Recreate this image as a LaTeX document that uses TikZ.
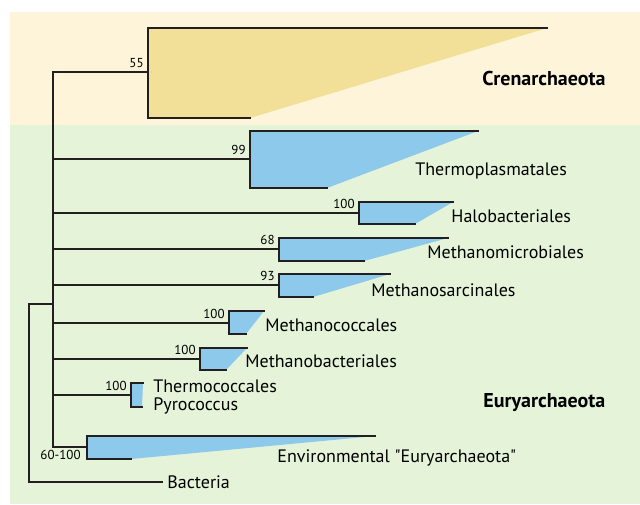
\documentclass[tikz,border=0pt]{standalone}
\usepackage{fontspec}
\setmainfont[Ligatures=TeXOff]{PT Sans}
\definecolor{crenbg}{HTML}{FDF4D9}
\definecolor{eurybg}{HTML}{E5F3D9}
\definecolor{crenfill}{HTML}{F2DF98}
\definecolor{euryfill}{HTML}{8DC9EB}
\definecolor{treeline}{HTML}{231F20}
\begin{document}
\begin{tikzpicture}[x=0.5pt, y=-0.5pt,
    branch/.style={line width=1pt, draw=treeline, line cap=rect},
    boot/.style={font=\fontsize{6.5}{7}\selectfont, inner sep=0pt, anchor=base east, xshift=-2pt, yshift=2.2pt},
    taxon/.style={font=\fontsize{9}{10}\selectfont, inner sep=0pt, anchor=base west},
    group/.style={font=\fontsize{10}{12}\selectfont\bfseries, inner sep=0pt, anchor=base west}]
    \useasboundingbox (0,0) rectangle (640,504);
    % background bands
    \fill[crenbg] (10,12) rectangle (640,125);
    \fill[eurybg] (10,125) rectangle (640,504);

    \coordinate (spine) at (53,0);
    \coordinate (root) at (29,304);
    \coordinate (bact) at (162,482);

    % Crenarchaeota
    \coordinate (cren) at (148,72);
    \coordinate (crenT) at (148,28);   \coordinate (crenTe) at (547,28);
    \coordinate (crenB) at (148,118);  \coordinate (crenBe) at (250,118);
    \fill[crenfill] (crenT) -- (crenTe) -- (crenBe) -- (crenB) -- cycle;
    \draw[branch] (crenTe) -- (crenT) -- (crenB) -- (crenBe);
    \draw[branch] (cren -| spine) -- (cren);
    \node[boot] (b55) at (cren) {55};

    % Thermoplasmatales
    \coordinate (tpl) at (250,159);
    \coordinate (tplT) at (250,131);   \coordinate (tplTe) at (478,131);
    \coordinate (tplB) at (250,188);   \coordinate (tplBe) at (327,188);
    \fill[euryfill] (tplT) -- (tplTe) -- (tplBe) -- (tplB) -- cycle;
    \draw[branch] (tplTe) -- (tplT) -- (tplB) -- (tplBe);
    \draw[branch] (tpl -| spine) -- (tpl);
    \node[boot] (b99) at (tpl) {99};

    % Halobacteriales
    \coordinate (hal) at (359,213);
    \coordinate (halT) at (359,202);   \coordinate (halTe) at (453,202);
    \coordinate (halB) at (359,224);   \coordinate (halBe) at (415,224);
    \fill[euryfill] (halT) -- (halTe) -- (halBe) -- (halB) -- cycle;
    \draw[branch] (halTe) -- (halT) -- (halB) -- (halBe);
    \draw[branch] (hal -| spine) -- (hal);
    \node[boot] (b100a) at (hal) {100};

    % Methanomicrobiales
    \coordinate (mmi) at (279,249);
    \coordinate (mmiT) at (279,238);   \coordinate (mmiTe) at (448,238);
    \coordinate (mmiB) at (279,261);   \coordinate (mmiBe) at (364,261);
    \fill[euryfill] (mmiT) -- (mmiTe) -- (mmiBe) -- (mmiB) -- cycle;
    \draw[branch] (mmiTe) -- (mmiT) -- (mmiB) -- (mmiBe);
    \draw[branch] (mmi -| spine) -- (mmi);
    \node[boot] (b68) at (mmi) {68};

    % Methanosarcinales
    \coordinate (msa) at (279,285);
    \coordinate (msaT) at (279,274);   \coordinate (msaTe) at (390,274);
    \coordinate (msaB) at (279,297);   \coordinate (msaBe) at (313,297);
    \fill[euryfill] (msaT) -- (msaTe) -- (msaBe) -- (msaB) -- cycle;
    \draw[branch] (msaTe) -- (msaT) -- (msaB) -- (msaBe);
    \draw[branch] (msa -| spine) -- (msa);
    \node[boot] (b93) at (msa) {93};

    % Methanococcales
    \coordinate (mco) at (229,323);
    \coordinate (mcoT) at (229,311);   \coordinate (mcoTe) at (264,311);
    \coordinate (mcoB) at (229,334);   \coordinate (mcoBe) at (246,334);
    \fill[euryfill] (mcoT) -- (mcoTe) -- (mcoBe) -- (mcoB) -- cycle;
    \draw[branch] (mcoTe) -- (mcoT) -- (mcoB) -- (mcoBe);
    \draw[branch] (mco -| spine) -- (mco);
    \node[boot] (b100b) at (mco) {100};

    % Methanobacteriales
    \coordinate (mba) at (200,359);
    \coordinate (mbaT) at (200,348);   \coordinate (mbaTe) at (247,348);
    \coordinate (mbaB) at (200,370);   \coordinate (mbaBe) at (226,370);
    \fill[euryfill] (mbaT) -- (mbaTe) -- (mbaBe) -- (mbaB) -- cycle;
    \draw[branch] (mbaTe) -- (mbaT) -- (mbaB) -- (mbaBe);
    \draw[branch] (mba -| spine) -- (mba);
    \node[boot] (b100c) at (mba) {100};

    % Thermococcales / Pyrococcus
    \coordinate (tco) at (131,395);
    \coordinate (tcoT) at (131,383);   \coordinate (tcoTe) at (143,383);
    \coordinate (tcoB) at (131,407);   \coordinate (tcoBe) at (142,407);
    \fill[euryfill] (tcoT) -- (tcoTe) -- (tcoBe) -- (tcoB) -- cycle;
    \draw[branch] (tcoTe) -- (tcoT) -- (tcoB) -- (tcoBe);
    \draw[branch] (tco -| spine) -- (tco);
    \node[boot] (b100d) at (tco) {100};

    % environmental clade
    \coordinate (env) at (87,447);
    \coordinate (envT) at (87,436);    \coordinate (envTe) at (375,436);
    \coordinate (envB) at (87,459);    \coordinate (envBe) at (131,459);
    \fill[euryfill] (envT) -- (envTe) -- (envBe) -- (envB) -- cycle;
    \draw[branch] (envTe) -- (envT) -- (envB) -- (envBe);
    \node[boot, anchor=north east, yshift=-3.4pt, xshift=-1pt] (b60) at (env) {60-100};

    % spine and root
    \draw[branch] (cren -| spine) -- (env -| spine) -- (env);
    \draw[branch] (root -| spine) -- (root) -- (bact -| root) -- (bact);

    % labels
    \node[group] (crenlbl) at (482,85) {Crenarchaeota};
    \node[group] (eurylbl) at (483,407) {Euryarchaeota};
    \node[taxon] (tpllbl) at (415,175) {Thermoplasmatales};
    \node[taxon] (hallbl) at (451,222) {Halobacteriales};
    \node[taxon] (mmilbl) at (427,258) {Methanomicrobiales};
    \node[taxon] (msalbl) at (371,296) {Methanosarcinales};
    \node[taxon] (mcolbl) at (265,331) {Methanococcales};
    \node[taxon] (mbalbl) at (245,367) {Methanobacteriales};
    \node[taxon] (tcolbl) at (153,392) {Thermococcales};
    \node[taxon] (pyrlbl) at (153,410) {Pyrococcus};
    \node[taxon] (envlbl) at (277,462) {Environmental "Euryarchaeota"};
    \node[taxon] (bactlbl) at (167,488) {Bacteria};
\end{tikzpicture}
\end{document}
